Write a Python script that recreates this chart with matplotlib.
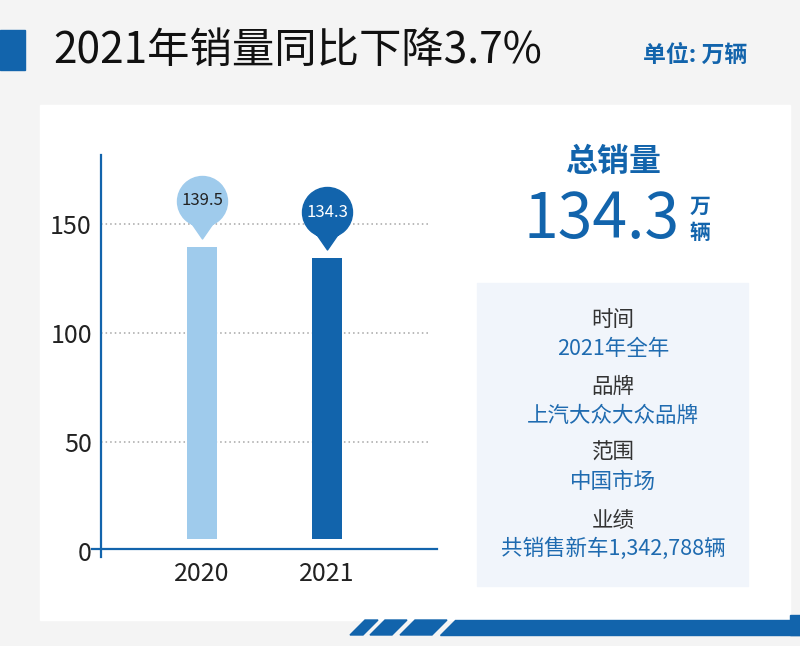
import matplotlib.pyplot as plt
from matplotlib.path import Path
from matplotlib.patches import Rectangle, Polygon
from matplotlib.transforms import offset_copy

plt.rcParams['font.family'] = ['Noto Sans CJK SC', 'DejaVu Sans']

# data
years = ['2020', '2021']
sales = [139.5, 134.3]
bar_colors = ['#9fcbec', '#1264ac']
label_colors = ['#222222', '#ffffff']
y_ticks = [0, 50, 100, 150]

title = '2021年销量同比下降3.7%'
unit = '单位: 万辆'
total_label = '总销量'
total_value = '134.3'
info_keys = ['时间', '品牌', '范围', '业绩']
info_values = ['2021年全年', '上汽大众大众品牌', '中国市场', '共销售新车1,342,788辆']

BLUE = '#1264ac'
W, H = 800, 646


def fx(x):
    return x / W


def fy(y):
    return 1 - y / H


fig = plt.figure(figsize=(8, 6.46), dpi=100)
fig.patch.set_facecolor('#f4f4f4')

# background panels and decoration
fig.patches.append(Rectangle((fx(0), fy(70)), fx(25), 40 / H, transform=fig.transFigure,
                             color=BLUE, zorder=0))
fig.patches.append(Rectangle((fx(40), fy(620)), fx(750), 515 / H, transform=fig.transFigure,
                             color='white', zorder=0))
fig.patches.append(Rectangle((fx(790), fy(635)), fx(10), 20 / H, transform=fig.transFigure,
                             color=BLUE, zorder=0))
stripes = [(350, 363), (370, 392), (400, 432), (440, 800)]
for x0, x1 in stripes:
    top_x1 = x1 + 15 if x1 < 800 else 800
    pts = [(fx(x0), fy(635)), (fx(x1), fy(635)), (fx(top_x1), fy(620)), (fx(x0 + 15), fy(620))]
    fig.patches.append(Polygon(pts, closed=True, transform=fig.transFigure, color=BLUE, zorder=0))
fig.patches.append(Rectangle((fx(477), fy(586)), fx(271), 303 / H, transform=fig.transFigure,
                             color='#f1f5fb', zorder=1))

# header
fig.text(fx(53), fy(51), title, fontsize=30.5, color='#111111', va='center', ha='left')
fig.text(fx(747), fy(55), unit, fontsize=16.5, color=BLUE, va='center', ha='right',
         fontweight='bold')

# bar chart
ax = fig.add_axes([fx(101), fy(557), fx(336), 402 / H])
ax.set_zorder(3)
ax.set_facecolor('none')
base = 5.5
ax.bar(range(len(years)), [v - base for v in sales], bottom=base, width=0.24,
       color=bar_colors, zorder=2)
ax.set_xlim(-0.808, 1.88)
ax.set_ylim(-2.75, 181.7)

for s in ['top', 'right', 'bottom']:
    ax.spines[s].set_visible(False)
ax.spines['left'].set_color(BLUE)
ax.spines['left'].set_linewidth(1.6)
ax.axhline(0.8, xmin=-9 / 336, xmax=1, color=BLUE, lw=1.6, clip_on=False, zorder=3)
for t in y_ticks[1:]:
    ax.axhline(t, xmin=0, xmax=0.973, color='#a5a5a5', lw=1.1, ls=(0, (1, 2)), zorder=1)

ax.set_yticks(y_ticks)
ax.set_xticks(range(len(years)))
ax.set_xticklabels(years)
ax.tick_params(axis='y', length=0, pad=6.5, labelsize=18, labelcolor='#222222')
ax.tick_params(axis='x', length=0, pad=3, labelsize=18, labelcolor='#222222')

# pin markers above bars
pin = Path.make_compound_path(
    Path.circle((0, 0), 1),
    Path([(-0.45, -0.85), (0, -1.5), (0.45, -0.85), (-0.45, -0.85)],
         [Path.MOVETO, Path.LINETO, Path.LINETO, Path.CLOSEPOLY]))
pin_trans = offset_copy(ax.transData, fig=fig, x=0, y=46 * 0.72, units='points')
for i, v in enumerate(sales):
    ax.plot(i, v, marker=pin, markersize=54, color=bar_colors[i], transform=pin_trans,
            clip_on=False, zorder=4)
    ax.text(i, v, f'{v}', transform=pin_trans, ha='center', va='center', fontsize=12,
            color=label_colors[i], zorder=5)

# summary panel
fig.text(fx(613), fy(162), total_label, fontsize=23, fontweight='bold', color=BLUE,
         ha='center', va='center')
fig.text(fx(602), fy(220), total_value, fontsize=45, color=BLUE, ha='center', va='center')
fig.text(fx(700), fy(206), '万', fontsize=15, fontweight='bold', color=BLUE,
         ha='center', va='center')
fig.text(fx(700), fy(233), '辆', fontsize=15, fontweight='bold', color=BLUE,
         ha='center', va='center')

key_y = [320, 387, 453, 520]
for k, v, yy in zip(info_keys, info_values, key_y):
    fig.text(fx(613), fy(yy), k, fontsize=15.5, color='#333333', ha='center', va='center',
             zorder=3)
    fig.text(fx(613), fy(yy + 29), v, fontsize=15.5, color='#1f6bb0', ha='center',
             va='center', zorder=3)

plt.savefig('out.png', dpi=100, facecolor=fig.get_facecolor())
